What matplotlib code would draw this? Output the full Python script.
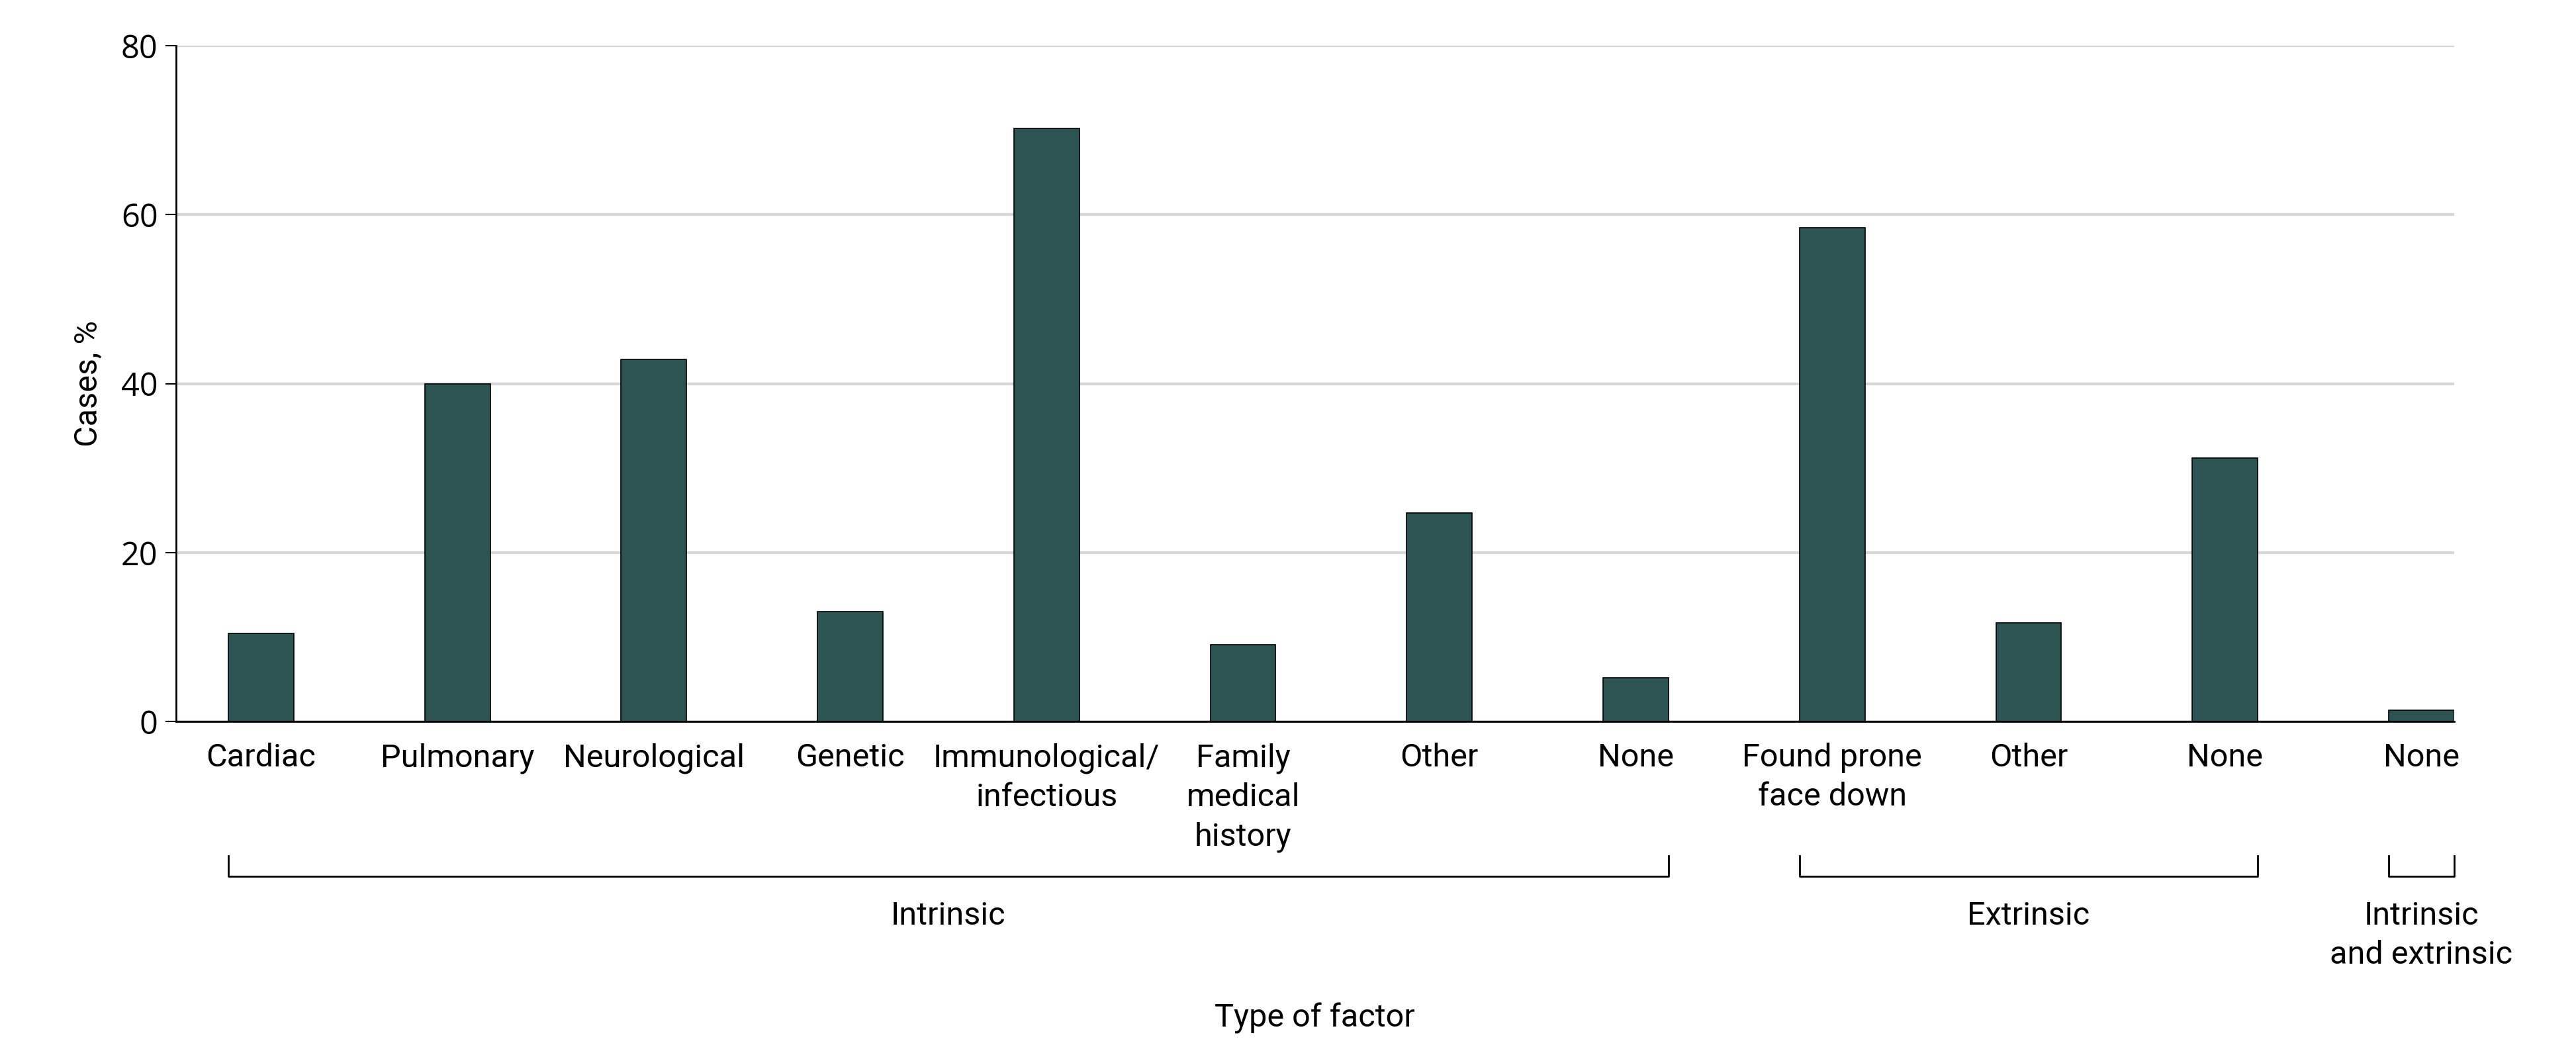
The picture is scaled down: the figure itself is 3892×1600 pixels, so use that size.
import matplotlib.pyplot as plt
import matplotlib.transforms as mtransforms

# data
labels = ["Cardiac", "Pulmonary", "Neurological", "Genetic", "Immunological/\ninfectious",
          "Family\nmedical\nhistory", "Other", "None", "Found prone\nface down", "Other",
          "None", "None"]
cases = [10.4, 40.0, 42.9, 13.0, 70.2, 9.1, 24.7, 5.2, 58.5, 11.7, 31.2, 1.3]
groups = ["Intrinsic", "Extrinsic", "Intrinsic\nand extrinsic"]
group_spans = [(0, 7), (8, 10), (11, 11)]
yticks = [0, 20, 40, 60, 80]

text_font = ["Roboto", "DejaVu Sans"]
num_font = ["Open Sans", "DejaVu Sans"]
bar_color = "#2b5453"
width = 1 / 3

fig = plt.figure(figsize=(38.92, 16), dpi=100, facecolor="white")
ax = fig.add_axes([0.0683, 0.3187, 0.8844, 0.6381])

x = list(range(len(cases)))
ax.bar(x, cases, width=width, color=bar_color, edgecolor="black", linewidth=1.2, zorder=3)

ax.set_xlim(-0.433, len(cases) - 1 + width / 2)
ax.set_ylim(0, 80)
ax.set_yticks(yticks)
ax.yaxis.grid(True, color="#d6d6d6", linewidth=3.0)
ax.set_axisbelow(True)

for side in ["top", "right"]:
    ax.spines[side].set_visible(False)
for side in ["left", "bottom"]:
    ax.spines[side].set_linewidth(2.0)
    ax.spines[side].set_color("black")
ax.spines["bottom"].set_zorder(4)

ax.set_xticks(x)
ax.set_xticklabels(labels, family=text_font, fontsize=35, linespacing=1.37)
ax.tick_params(axis="x", length=0, pad=23)
ax.tick_params(axis="y", length=11.5, width=1.5, pad=8, labelsize=35)
for t in ax.get_yticklabels():
    t.set_family(num_font)

# group brackets under the tick labels
trans = mtransforms.blended_transform_factory(ax.transData, ax.transAxes)
for name, (a, b) in zip(groups, group_spans):
    x0 = a - width / 2
    x1 = b + width / 2
    ax.plot([x0, x0, x1, x1], [-0.199, -0.229, -0.229, -0.199], transform=trans,
            color="black", linewidth=2.0, clip_on=False)
    ax.text((x0 + x1) / 2, -0.2655, name, transform=trans, ha="center", va="top",
            family=text_font, fontsize=35, linespacing=1.37)

ax.set_xlabel("Type of factor", family=text_font, fontsize=35)
ax.xaxis.set_label_coords(0.5, -0.4165)
ax.set_ylabel("Cases, %", family=text_font, fontsize=35)
ax.yaxis.set_label_coords(-0.0317, 0.5)

fig.savefig("out.png", dpi=100, facecolor="white")
